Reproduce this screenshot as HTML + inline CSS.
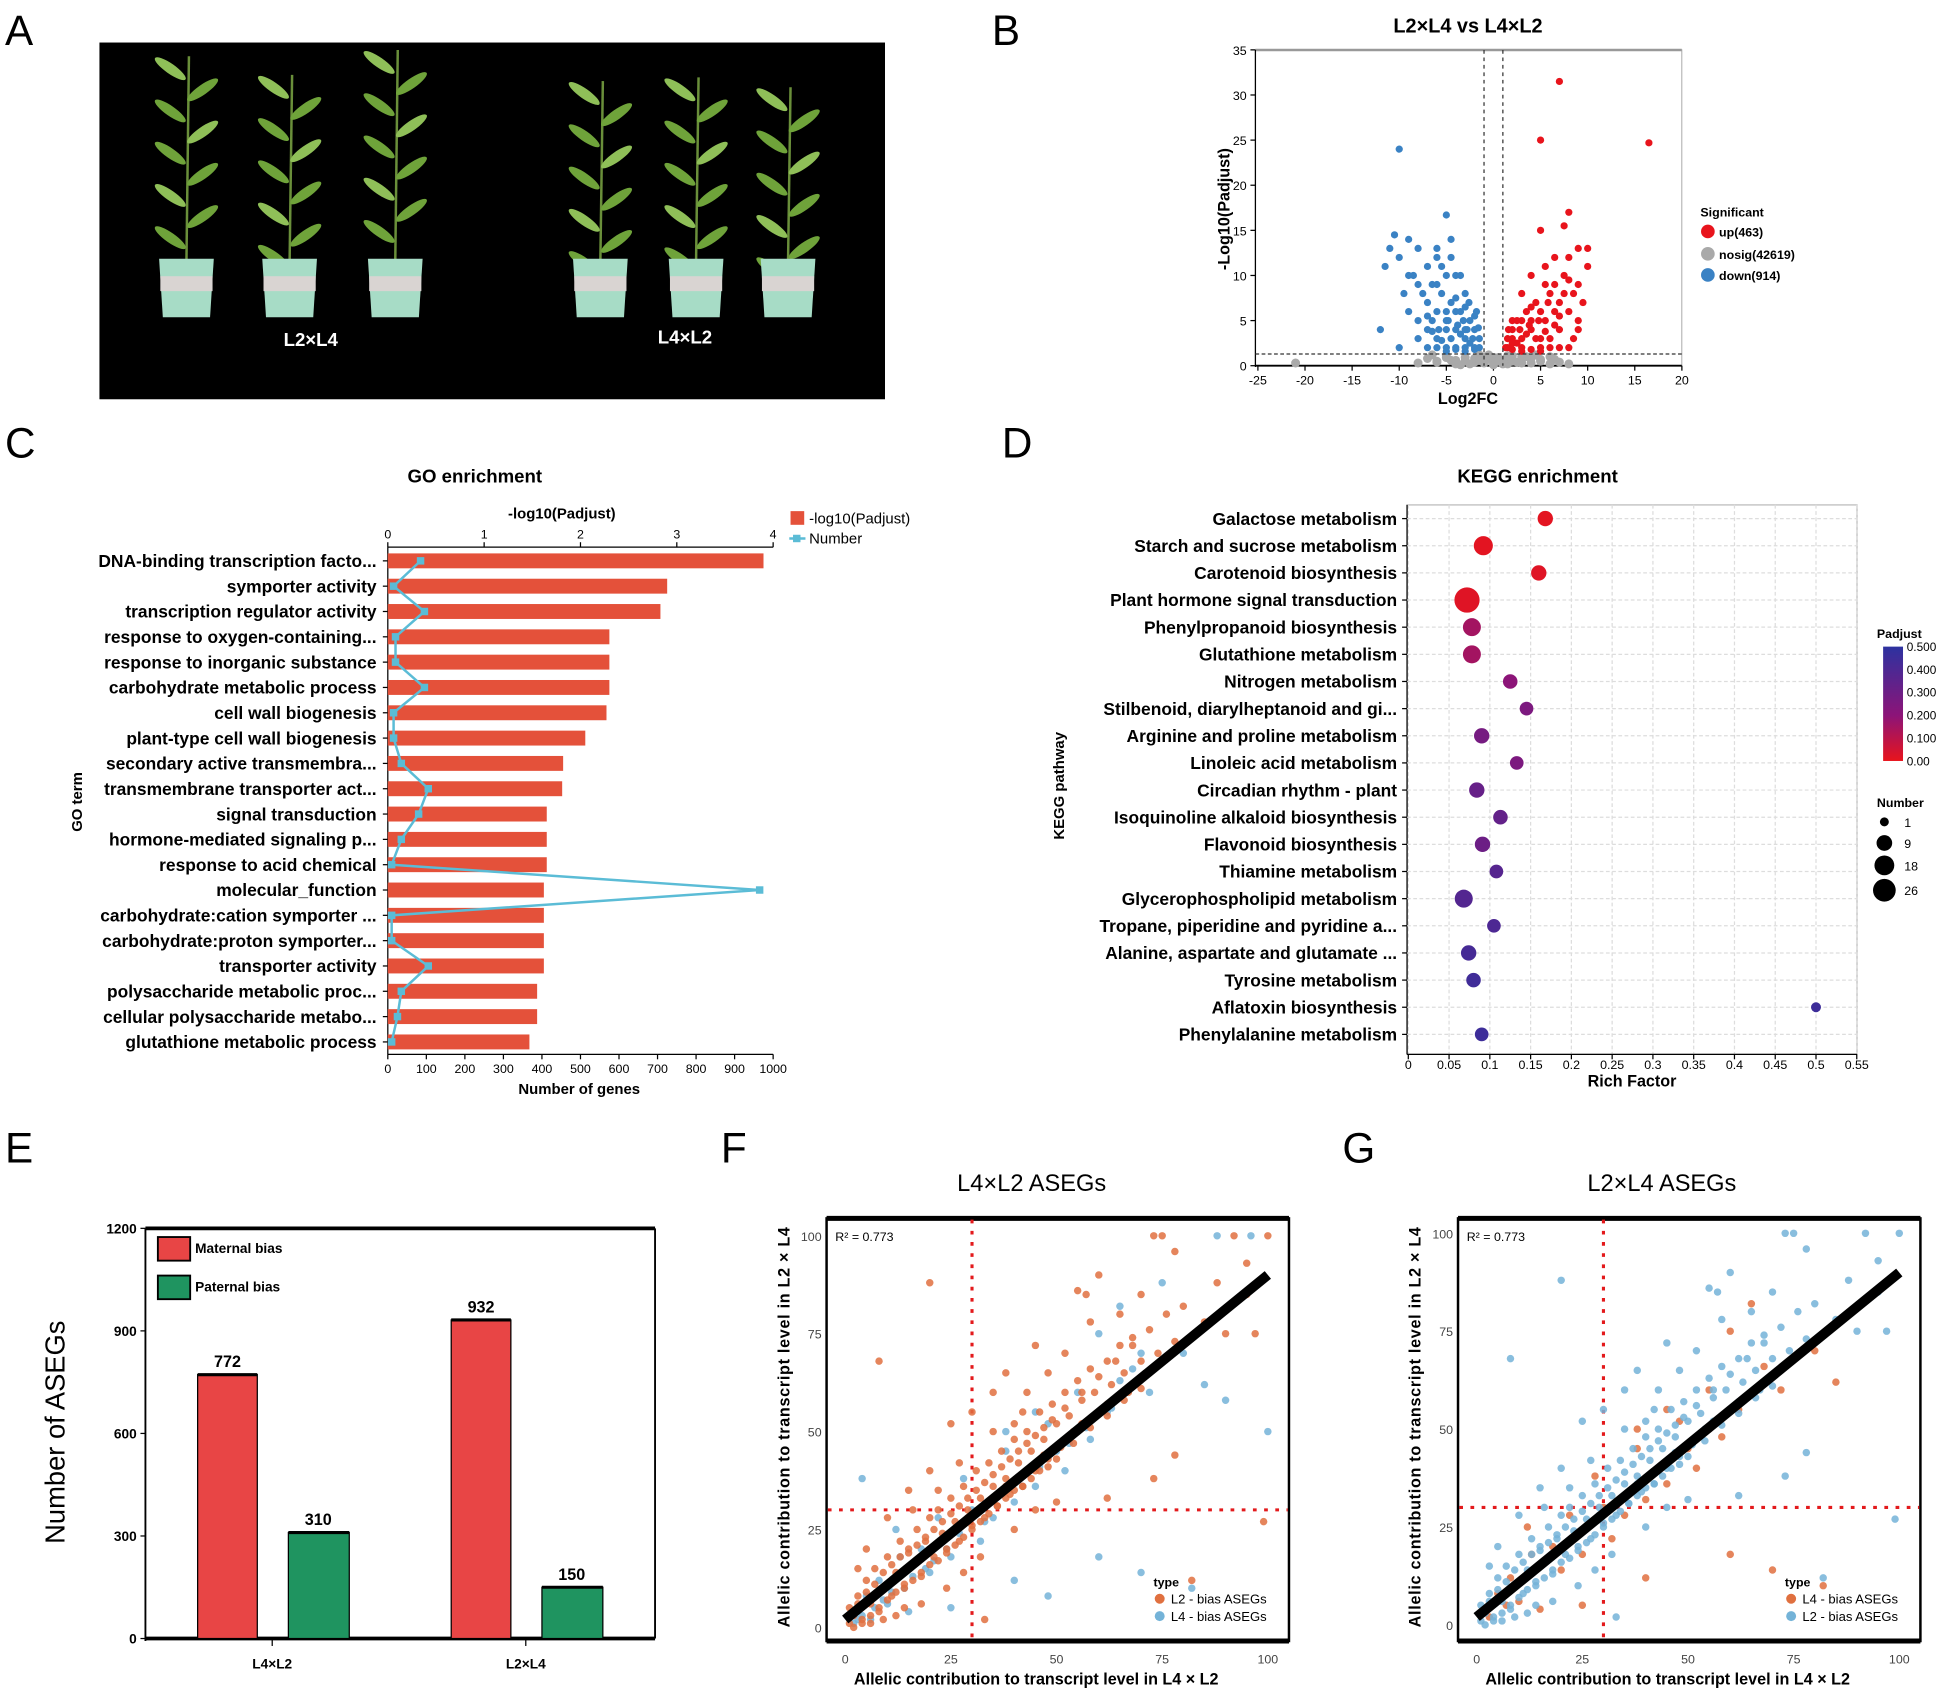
<!DOCTYPE html>
<html><head><meta charset="utf-8">
<style>
html,body{margin:0;padding:0;background:#fff;}
svg{display:block;font-family:"Liberation Sans",Arial,sans-serif;}
</style></head>
<body>
<svg id="fig" xmlns="http://www.w3.org/2000/svg" width="1949" height="1691" viewBox="0 0 1568 1360"></svg>
<script>
// ---------- DATA ----------
// Volcano (B)
const volUpX=[1.5,2,3,4,5,2.5,3.5,4.5,5.5,6,7,8,8.5,7.5,8,9,10,10,9,6.5,5,7.5,8,4,3,2,1.3,6,5,7,8,9,4,3,2,5.5,6.5,7,8.5,7,5,16.5,1.5,2,2.5,3,3.5,4,4.5,5,5.5,6,6.5,7,3,4,5,2,1.6,2.8,3.8,4.8,5.8,6.5,7.5,5.5,8,9.5,9];
const volUpY=[2,3,2,4,3,5,6,7,5,8,4,6,3,10,12,13,13,11,9,12,15,15.5,17,10,8,4,2,3,2,2,2,4,5,3,2.5,9,6,7,8,31.5,25,24.7,3,1.8,2.5,1.6,3.5,1.8,3,1.6,3.8,2,4.5,5.5,5,6.5,6,5,4,4,4.5,5,7,9,8,11,9.5,7,5];
const volDownX=[-2,-3,-4,-5,-6,-2.5,-3.5,-4.5,-5.5,-6.5,-7,-8,-9,-10,-10.5,-11,-12,-9,-8,-7,-6,-5,-4.5,-4,-3,-2,-1.5,-6,-7,-5,-4,-3,-2.2,-8.5,-9.5,-11.5,-10,-5,-4,-6,-3,-5,-7,-8,-1.8,-2.6,-3.2,-10,-1.5,-2,-2.5,-3,-3.5,-4,-4.5,-5,-5.5,-6,-6.5,-7,-3,-4,-5,-2,-1.6,-2.8,-3.8,-4.8,-5.8,-6.5,-7.5,-5.5,-4.5,-3.5,-6,-8,-9];
const volDownY=[2,3,2,4,3,5,6,7,8,5,2,3,6,12,14.5,13,4,14,13,11,12,16.7,14,10,8,4,2,9,7,5,4,2,3,10,8,11,2,10,6,6,4,2,4,5,6,7,5,24,3,1.8,2.5,1.6,3.5,1.8,3,1.6,2.8,2,3.8,5.5,6.5,7.5,6,5.5,4.2,4,4.5,5,4,9,8,11,12,10,13,9,10];
const volNsX=[-8,-7,-6,-5,-4,-3,-2,-1,0,1,2,3,4,5,6,7,8,-6.5,-4.5,-2.5,-0.5,0.5,2.5,4.5,6.5,-3.5,-1.5,1.5,3.5,-21,-3,-2,-1,0,1,2,3,-4,4,-5,5,-6,6,-0.5,0.5,-1.5,1.5];
const volNsY=[0.3,0.8,0.5,1.1,0.2,0.9,0.4,1.0,0.1,0.6,1.1,0.3,0.8,0.5,1.0,0.4,0.2,1.2,0.6,0.2,0.7,0.9,0.4,1.2,0.7,0.1,1.2,0.2,1.0,0.3,0.5,0.8,0.3,0.9,0.2,0.5,1.0,0.6,0.3,0.9,0.7,0.4,0.2,1.2,0.5,0.6,1.1];
// GO (C)
const goTerms=["DNA-binding transcription facto...","symporter activity","transcription regulator activity","response to oxygen-containing...","response to inorganic substance","carbohydrate metabolic process","cell wall biogenesis","plant-type cell wall biogenesis","secondary active transmembra...","transmembrane transporter act...","signal transduction","hormone-mediated signaling p...","response to acid chemical","molecular_function","carbohydrate:cation symporter ...","carbohydrate:proton symporter...","transporter activity","polysaccharide metabolic proc...","cellular polysaccharide metabo...","glutathione metabolic process"];
const goPadj=[3.9,2.9,2.83,2.3,2.3,2.3,2.27,2.05,1.82,1.81,1.65,1.65,1.65,1.62,1.62,1.62,1.62,1.55,1.55,1.47];
const goNum=[85,15,95,20,20,95,15,15,35,105,80,35,10,965,10,10,105,35,25,10];
const goTopTicks=[0,1,2,3,4];
const goBottomTicks=[0,100,200,300,400,500,600,700,800,900,1000];
// KEGG (D)
const keggTerms=["Galactose metabolism","Starch and sucrose metabolism","Carotenoid biosynthesis","Plant hormone signal transduction","Phenylpropanoid biosynthesis","Glutathione metabolism","Nitrogen metabolism","Stilbenoid, diarylheptanoid and gi...","Arginine and proline metabolism","Linoleic acid metabolism","Circadian rhythm - plant","Isoquinoline alkaloid biosynthesis","Flavonoid biosynthesis","Thiamine metabolism","Glycerophospholipid metabolism","Tropane, piperidine and pyridine a...","Alanine, aspartate and glutamate ...","Tyrosine metabolism","Aflatoxin biosynthesis","Phenylalanine metabolism"];
const keggRich=[0.168,0.092,0.16,0.072,0.078,0.078,0.125,0.145,0.09,0.133,0.084,0.113,0.091,0.108,0.068,0.105,0.074,0.08,0.5,0.09];
const keggNum=[6,12,6,26,10,10,5,4,6,4,6,5,6,4,10,4,6,5,1,4];
const keggPadj=[0.01,0.01,0.02,0.02,0.15,0.15,0.2,0.25,0.27,0.25,0.32,0.33,0.3,0.37,0.38,0.4,0.42,0.44,0.45,0.45];
const keggXTicks=[0,0.05,0.1,0.15,0.2,0.25,0.3,0.35,0.4,0.45,0.5,0.55];
const keggSizeLegend=[1,9,18,26];
const keggColorTicks=[0.5,0.4,0.3,0.2,0.1,0];
// Bars (E)
const aseGroups=["L4×L2","L2×L4"];
const aseMaternal=[772,932];
const asePaternal=[310,150];
const aseTicks=[0,300,600,900,1200];
// Scatter F
const fOrX=[2,3,4,5,6,7,8,9,10,11,12,13,14,15,16,17,18,19,20,21,22,23,24,25,26,27,28,29,30,31,32,33,34,35,36,37,38,39,40,41,42,43,44,45,46,47,48,49,50,51,52,53,54,55,56,57,58,59,60,62,63,64,65,66,67,68,70,72,74,76,78,80,85,88,90,95,99,73,75,92,100,8,20,55,57,60,78,95,97,25,30,35,38,20,15,10,5,3,12,18,24,28,32,40,45,50,73,78,82,62,40,43,48,52,58,45,65,70,35,42,22,27,16,14,6,1,9,33,1,2,3,4,5,6,7,8,9,10,11,12,13,14,15,16,17,18,19,20,21,22,23,24,25,26,27,28,29,30,31,32,33,34,35,36,37,38,39,40,41,42,43,44,45,46,47,48,49,50,52,54,56,58,60,62,64,66,68,70,5,8,11,14,17,20,23,26,29,32,35,38,41,44,47,50,53,56,59,62];
const fOrY=[3,8,2,12,6,15,4,10,18,8,14,22,11,20,16,25,13,22,28,18,30,24,20,33,27,22,36,30,26,40,33,28,42,36,31,45,38,34,48,42,36,50,45,40,55,48,43,57,52,46,60,54,50,63,58,52,66,60,55,68,62,58,72,65,60,74,68,76,70,80,73,82,78,88,75,85,27,100,100,100,100,68,88,86,85,90,96,93,75,52,55,60,65,40,35,28,20,15,3,6,10,14,18,25,30,32,38,44,12,33,52,60,65,70,78,72,80,85,50,55,35,42,30,5,1,1,2,2,5,0,6,1,9,3,11,5,14,7,16,9,18,10,19,12,21,14,23,16,25,17,27,19,29,21,31,23,33,25,35,27,37,29,39,31,41,33,43,35,45,36,47,38,49,40,51,41,53,43,56,47,60,51,64,54,68,58,72,61,6,9,12,14,17,20,22,25,28,30,33,36,38,41,44,46,49,52,54,57];
const fBlX=[3,5,8,10,13,15,18,22,25,28,32,35,38,40,45,48,52,55,58,60,62,65,68,72,75,80,85,90,100,96,88,70,82,60,40,25,15,7,12,20,30,50,55,45,38,65,70,4,48,2,4,6,9,11,14,16,19,21,24,27,33,36,42,46,53,57,63];
const fBlY=[2,8,12,6,18,4,20,28,18,38,22,28,45,32,36,52,40,60,48,75,55,82,66,60,88,70,62,58,50,100,100,14,10,18,12,5,15,5,25,14,30,45,50,55,50,63,70,38,8,1,3,2,7,9,10,13,15,17,20,24,27,31,36,41,47,51,56];
const fFit=[2,0.88]; // intercept, slope
// Scatter G
const gBlX=fOrX.slice();
const gBlY=fOrY.slice();
const gOrX=[3,5,8,10,13,15,18,22,25,28,32,35,38,40,45,48,52,55,58,60,62,65,68,72,80,85,70,82,60,40,25,15,7,12,20,30,50,55,45,38];
const gOrY=[2,8,12,6,18,4,20,28,18,38,22,28,45,32,36,52,40,60,48,75,55,82,66,60,70,62,14,10,18,12,5,15,5,25,14,30,45,50,55,50];
const gFit=[2,0.88];
const sc100Ticks=[0,25,50,75,100];

// ---------- HELPERS ----------
const NS="http://www.w3.org/2000/svg";
const svg=document.getElementById('fig');
function E(tag,a,p){const e=document.createElementNS(NS,tag);for(const k in a)e.setAttribute(k,a[k]);(p||svg).appendChild(e);return e;}
function T(x,y,s,a,p){const e=E('text',Object.assign({x:x,y:y},a||{}),p);e.textContent=s;return e;}
function G(name){const g=E('g',{});return g;}

[["A",4,36],["B",798,36],["C",4,368],["D",806,368],["E",4,935],["F",580,935],["G",1080,935]].forEach(function(l){
  const t=T(l[1],l[2],l[0],{'font-size':34,fill:'#000'});
  
  
});

// ---------- A: photo ----------
(function(){
  const g=G('plant-photo');
  E('rect',{x:80,y:34,width:632,height:287,fill:'#000'},g);
  const plants=[150,233,318,483,560,634];
  const tops=[45,60,40,65,62,70];
  plants.forEach(function(px,i){
    const pg=E('g',{},g);
    
    
    E('line',{x1:px,y1:210,x2:px+2,y2:tops[i],stroke:'#6a8f3a','stroke-width':2},pg);
    for(let k=0;k<9;k++){
      const yy=tops[i]+10+k*17;const side=k%2?1:-1;
      E('ellipse',{cx:px+side*13,cy:yy,rx:15,ry:4,fill:k%3?'#6fa33a':'#8fbf58',transform:'rotate('+(side*-35)+' '+(px+side*13)+' '+yy+')'},pg);
    }
    E('path',{d:'M'+(px-22)+' 208 L'+(px+22)+' 208 L'+(px+19)+' 255 L'+(px-19)+' 255 Z',fill:'#a7dcc6'},pg);
    E('rect',{x:px-21,y:222,width:42,height:12,fill:'#d9d4d2'},pg);
  });
  let t=T(250,278,'L2×L4',{'font-size':15,'font-weight':'bold',fill:'#fff','text-anchor':'middle'},g);
  
  t=T(551,276,'L4×L2',{'font-size':15,'font-weight':'bold',fill:'#fff','text-anchor':'middle'},g);
  
})();

// ---------- B: volcano ----------
(function(){
  const g=G('volcano-plot');
  const bx=v=>1012+(v+25)*7.58, by=v=>294-v*7.26;
  let t=T(1181,26,'L2×L4 vs L4×L2',{'font-size':16,'font-weight':'bold','text-anchor':'middle'},g);
  
  E('rect',{x:1010,y:40,width:343,height:254,fill:'none',stroke:'#bbb','stroke-width':1},g);
  E('line',{x1:1010,y1:40,x2:1353,y2:40,stroke:'#999','stroke-width':2},g);
  E('line',{x1:1010,y1:40,x2:1010,y2:295,stroke:'#000'},g);
  E('line',{x1:1010,y1:294,x2:1353,y2:294,stroke:'#000','stroke-width':1.5},g);
  for(let v=-25;v<=20;v+=5){E('line',{x1:bx(v),y1:294,x2:bx(v),y2:298,stroke:'#000'},g);
    t=T(bx(v),309,String(v),{'font-size':10,'text-anchor':'middle'},g);
    }
  for(let v=0;v<=35;v+=5){E('line',{x1:1006,y1:by(v),x2:1010,y2:by(v),stroke:'#000'},g);
    t=T(1003,by(v)+4,String(v),{'font-size':10,'text-anchor':'end'},g);
    }
  volNsX.forEach((x,i)=>{const c=E('circle',{cx:bx(x),cy:by(volNsY[i]),r:3.6,fill:'#a9a9a9'},g);
    });
  volDownX.forEach((x,i)=>{const c=E('circle',{cx:bx(x),cy:by(volDownY[i]),r:2.9,fill:'#3a82c4'},g);
    });
  volUpX.forEach((x,i)=>{const c=E('circle',{cx:bx(x),cy:by(volUpY[i]),r:2.9,fill:'#e8141c'},g);
    });
  [-1,1].forEach(v=>E('line',{x1:bx(v),y1:40,x2:bx(v),y2:294,stroke:'#333','stroke-dasharray':'3,3'},g));
  E('line',{x1:1010,y1:by(1.3),x2:1353,y2:by(1.3),stroke:'#333','stroke-dasharray':'3,2'},g);
  t=T(0,0,'-Log10(Padjust)',{'font-size':13,'font-weight':'bold','text-anchor':'middle',transform:'translate(989,168) rotate(-90)'},g);
  
  t=T(1181,325,'Log2FC',{'font-size':13,'font-weight':'bold','text-anchor':'middle'},g);
  
  t=T(1368,174,'Significant',{'font-size':10,'font-weight':'bold'},g);
  
  [['up(463)','#e8141c',186],['nosig(42619)','#a9a9a9',204],['down(914)','#3a82c4',221]].forEach(function(l){
    const lg=E('g',{},g);
    E('circle',{cx:1374,cy:l[2],r:5.5,fill:l[1]},lg);
    T(1383,l[2]+4,l[0],{'font-size':10,'font-weight':'bold'},lg);
  });
})();

// ---------- C: GO ----------
(function(){
  const g=G('go-enrichment-chart');
  const gx=n=>312+n*0.31, gt=v=>312+v*77.5, gy=i=>451+i*20.37;
  let t=T(382,388,'GO enrichment',{'font-size':15,'font-weight':'bold','text-anchor':'middle'},g);
  
  t=T(452,417,'-log10(Padjust)',{'font-size':12,'font-weight':'bold','text-anchor':'middle'},g);
  
  E('line',{x1:312,y1:440,x2:622,y2:440,stroke:'#000'},g);
  goTopTicks.forEach(v=>{E('line',{x1:gt(v),y1:436,x2:gt(v),y2:440,stroke:'#000'},g);
    const tt=T(gt(v),433,String(v),{'font-size':10,'text-anchor':'middle'},g);
    });
  E('line',{x1:312,y1:440,x2:312,y2:848,stroke:'#000'},g);
  E('line',{x1:312,y1:848,x2:622,y2:848,stroke:'#000'},g);
  goBottomTicks.forEach(v=>{E('line',{x1:gx(v),y1:848,x2:gx(v),y2:852,stroke:'#000'},g);
    const tt=T(gx(v),863,String(v),{'font-size':10,'text-anchor':'middle'},g);
    });
  goTerms.forEach((s,i)=>{
    E('line',{x1:308,y1:gy(i),x2:312,y2:gy(i),stroke:'#000'},g);
    const tt=T(303,gy(i)+5,s,{'font-size':14,'font-weight':'bold','text-anchor':'end'},g);
    
    const b=E('rect',{x:312,y:gy(i)-6,width:gt(goPadj[i])-312,height:12,fill:'#e4513a'},g);
    
  });
  const pts=goNum.map((n,i)=>gx(n)+','+gy(i)).join(' ');
  const pl=E('polyline',{points:pts,fill:'none',stroke:'#5bbcd6','stroke-width':2},g);
  
  goNum.forEach((n,i)=>{const m=E('rect',{x:gx(n)-3,y:gy(i)-3,width:6,height:6,fill:'#5bbcd6'},g);
    });
  t=T(0,0,'GO term',{'font-size':12,'font-weight':'bold','text-anchor':'middle',transform:'translate(66,645) rotate(-90)'},g);
  
  t=T(466,880,'Number of genes',{'font-size':12,'font-weight':'bold','text-anchor':'middle'},g);
  
  let lg=E('g',{},g);
  E('rect',{x:636,y:411,width:11,height:11,fill:'#e4513a'},lg);T(651,421,'-log10(Padjust)',{'font-size':12},lg);
  lg=E('g',{},g);
  E('line',{x1:635,y1:433,x2:648,y2:433,stroke:'#5bbcd6','stroke-width':2},lg);
  E('rect',{x:638,y:430,width:6,height:6,fill:'#5bbcd6'},lg);T(651,437,'Number',{'font-size':12},lg);
})();

// ---------- D: KEGG ----------
(function(){
  const g=G('kegg-enrichment-chart');
  const kx=v=>1133+v*656, ky=i=>417+i*21.84, kr=n=>2.5+1.5*Math.sqrt(n);
  function col(p){const a=[232,20,28],b=[140,20,120],c=[45,50,160];let f,u,w;
    if(p<=0.2){f=p/0.2;u=a;w=b;}else{f=Math.min(1,(p-0.2)/0.3);u=b;w=c;}
    return 'rgb('+u.map((x,j)=>Math.round(x+(w[j]-x)*f)).join(',')+')';}
  let t=T(1237,388,'KEGG enrichment',{'font-size':15,'font-weight':'bold','text-anchor':'middle'},g);
  
  E('rect',{x:1132,y:406,width:362,height:442,fill:'none',stroke:'#bbb'},g);
  keggXTicks.forEach(v=>{E('line',{x1:kx(v),y1:406,x2:kx(v),y2:848,stroke:'#ddd','stroke-dasharray':'3,2'},g);
    E('line',{x1:kx(v),y1:848,x2:kx(v),y2:852,stroke:'#000'},g);
    const tt=T(kx(v),860,String(v),{'font-size':10,'text-anchor':'middle'},g);
    });
  E('line',{x1:1132,y1:406,x2:1132,y2:848,stroke:'#000'},g);
  E('line',{x1:1132,y1:848,x2:1494,y2:848,stroke:'#000'},g);
  keggTerms.forEach((s,i)=>{
    E('line',{x1:1132,y1:ky(i),x2:1494,y2:ky(i),stroke:'#ddd','stroke-dasharray':'3,2'},g);
    E('line',{x1:1128,y1:ky(i),x2:1132,y2:ky(i),stroke:'#000'},g);
    const tt=T(1124,ky(i)+5,s,{'font-size':14,'font-weight':'bold','text-anchor':'end'},g);
    
  });
  keggTerms.forEach((s,i)=>{const c=E('circle',{cx:kx(keggRich[i]),cy:ky(i),r:kr(keggNum[i]),fill:col(keggPadj[i])},g);
    });
  t=T(0,0,'KEGG pathway',{'font-size':12,'font-weight':'bold','text-anchor':'middle',transform:'translate(856,632) rotate(-90)'},g);
  
  t=T(1313,874,'Rich Factor',{'font-size':13,'font-weight':'bold','text-anchor':'middle'},g);
  
  const defs=E('defs',{},g);const lgr=E('linearGradient',{id:'cb',x1:0,y1:0,x2:0,y2:1},defs);
  [0,0.2,0.4,0.6,0.8,1].forEach(o=>E('stop',{offset:o,'stop-color':col(0.5*(1-o))},lgr));
  t=T(1510,513,'Padjust',{'font-size':10,'font-weight':'bold'},g);
  
  const cb=E('rect',{x:1515,y:520,width:16,height:92,fill:'url(#cb)'},g);
  
  keggColorTicks.forEach(v=>{const yy=612-v/0.5*92;
    const tt=T(1534,yy+3.5,v===0?'0.00':v.toFixed(3),{'font-size':9.5},g);
    });
  t=T(1510,649,'Number',{'font-size':10,'font-weight':'bold'},g);
  
  const ly=[661,678,696,716];
  keggSizeLegend.forEach((n,i)=>{const lg=E('g',{},g);
    
    E('circle',{cx:1516,cy:ly[i],r:kr(n)*0.9,fill:'#000'},lg);T(1532,ly[i]+4,String(n),{'font-size':10},lg);});
})();

// ---------- E: bars ----------
(function(){
  const g=G('aseg-bar-chart');
  const ey=v=>1318-v*0.275;
  E('line',{x1:117,y1:988,x2:527,y2:988,stroke:'#000','stroke-width':3},g);
  E('line',{x1:527,y1:988,x2:527,y2:1318,stroke:'#000','stroke-width':1.5},g);
  E('line',{x1:117,y1:988,x2:117,y2:1320,stroke:'#000','stroke-width':1.5},g);
  E('line',{x1:117,y1:1318,x2:527,y2:1318,stroke:'#000','stroke-width':3},g);
  aseTicks.forEach(v=>{E('line',{x1:113,y1:ey(v),x2:117,y2:ey(v),stroke:'#000'},g);
    const tt=T(110,ey(v)+4,String(v),{'font-size':11,'font-weight':'bold','text-anchor':'end'},g);
    });
  const cx=[219,423];
  aseGroups.forEach((s,i)=>{
    const m=E('rect',{x:cx[i]-60,y:ey(aseMaternal[i]),width:48,height:ey(0)-ey(aseMaternal[i]),fill:'#e84545',stroke:'#000','stroke-width':1},g);
    
    E('line',{x1:cx[i]-60,y1:ey(aseMaternal[i]),x2:cx[i]-12,y2:ey(aseMaternal[i]),stroke:'#000','stroke-width':2.5},g);
    const p=E('rect',{x:cx[i]+13,y:ey(asePaternal[i]),width:49,height:ey(0)-ey(asePaternal[i]),fill:'#1f9460',stroke:'#000','stroke-width':1},g);
    
    E('line',{x1:cx[i]+13,y1:ey(asePaternal[i]),x2:cx[i]+62,y2:ey(asePaternal[i]),stroke:'#000','stroke-width':2.5},g);
    let tt=T(cx[i]-36,ey(aseMaternal[i])-6,String(aseMaternal[i]),{'font-size':13,'font-weight':'bold','text-anchor':'middle'},g);
    
    tt=T(cx[i]+37,ey(asePaternal[i])-6,String(asePaternal[i]),{'font-size':13,'font-weight':'bold','text-anchor':'middle'},g);
    
    E('line',{x1:cx[i],y1:1318,x2:cx[i],y2:1324,stroke:'#000'},g);
    tt=T(cx[i],1342,s,{'font-size':11,'font-weight':'bold','text-anchor':'middle'},g);
    
  });
  let t=T(0,0,'Number of ASEGs',{'font-size':22,'text-anchor':'middle',transform:'translate(52,1152) rotate(-90)'},g);
  
  let lg=E('g',{},g);
  E('rect',{x:127,y:995,width:26,height:19,fill:'#e84545',stroke:'#000','stroke-width':1.5},lg);
  T(157,1008,'Maternal bias',{'font-size':11,'font-weight':'bold'},lg);
  lg=E('g',{},g);
  E('rect',{x:127,y:1026,width:26,height:19,fill:'#1f9460',stroke:'#000','stroke-width':1.5},lg);
  T(157,1039,'Paternal bias',{'font-size':11,'font-weight':'bold'},lg);
})();

// ---------- F & G: scatters ----------
function scatter(name,x0,y0,bx0,title,titleX,denseX,denseY,denseCol,sparseX,sparseY,sparseCol,fit,leg1,leg2,c1,c2){
  const g=G(name);
  const sx=v=>x0+v*3.4, sy=v=>y0-v*3.15;
  let t=T(titleX,958,title,{'font-size':19,'text-anchor':'middle'},g);
  
  E('rect',{x:bx0,y:980,width:372,height:340,fill:'none',stroke:'#000','stroke-width':2},g);
  E('line',{x1:bx0,y1:980,x2:bx0+372,y2:980,stroke:'#000','stroke-width':4},g);
  E('line',{x1:bx0,y1:1320,x2:bx0+372,y2:1320,stroke:'#000','stroke-width':4},g);
  sc100Ticks.forEach(v=>{
    let tt=T(sx(v),1338,String(v),{'font-size':10,fill:'#444','text-anchor':'middle'},g);
    
    tt=T(bx0-4,sy(v)+4,String(v),{'font-size':10,fill:'#444','text-anchor':'end'},g);
    
  });
  E('line',{x1:sx(30),y1:981,x2:sx(30),y2:1319,stroke:'#e31a1c','stroke-width':2.5,'stroke-dasharray':'3,6'},g);
  E('line',{x1:bx0+1,y1:sy(30),x2:bx0+371,y2:sy(30),stroke:'#e31a1c','stroke-width':2.5,'stroke-dasharray':'3,6'},g);
  sparseX.forEach((x,i)=>{const c=E('circle',{cx:sx(x),cy:sy(sparseY[i]),r:3,fill:sparseCol,'fill-opacity':0.85},g);
    });
  denseX.forEach((x,i)=>{const c=E('circle',{cx:sx(x),cy:sy(denseY[i]),r:3,fill:denseCol,'fill-opacity':0.85},g);
    });
  const fl=E('line',{x1:sx(0),y1:sy(fit[0]),x2:sx(100),y2:sy(fit[0]+fit[1]*100),stroke:'#000','stroke-width':8},g);
  
  t=T(bx0+7,998,'R² = 0.773',{'font-size':10},g);
  
  t=T(bx0+22,1355,'Allelic contribution to transcript level in L4 × L2',{'font-size':13,'font-weight':'bold'},g);
  
  t=T(0,0,'Allelic contribution to transcript level in L2 × L4',{'font-size':13,'font-weight':'bold','text-anchor':'middle',textLength:322,lengthAdjust:'spacing',transform:'translate('+(bx0-30)+',1148) rotate(-90)'},g);
  
  t=T(bx0+263,1276,'type',{'font-size':10,'font-weight':'bold'},g);
  
  let lg=E('g',{},g);
  E('circle',{cx:bx0+268,cy:1286,r:4,fill:c1},lg);T(bx0+277,1290,leg1,{'font-size':10.5},lg);
  lg=E('g',{},g);
  E('circle',{cx:bx0+268,cy:1300,r:4,fill:c2},lg);T(bx0+277,1304,leg2,{'font-size':10.5},lg);
}
const OR='#e0703f', BL='#74b3d8';
scatter('scatter-f',680,1309,665,'L4×L2 ASEGs',830,fOrX,fOrY,OR,fBlX,fBlY,BL,fFit,'L2 - bias ASEGs','L4 - bias ASEGs',OR,BL);
scatter('scatter-g',1188,1307,1173,'L2×L4 ASEGs',1337,gBlX,gBlY,BL,gOrX,gOrY,OR,gFit,'L4 - bias ASEGs','L2 - bias ASEGs',OR,BL);
</script>
</body></html>
